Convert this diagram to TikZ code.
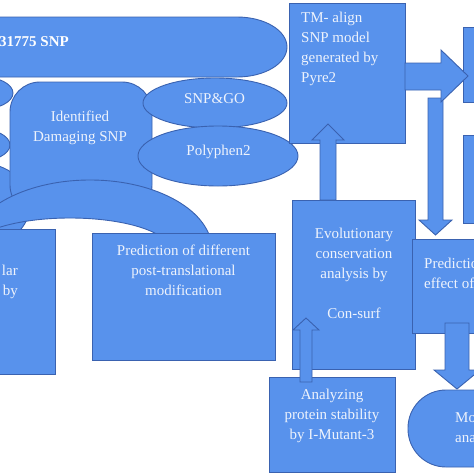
\documentclass[tikz,border=0pt]{standalone}
\usepackage{fontspec}
\setmainfont{Liberation Serif}
\definecolor{bfill}{HTML}{5892EC}
\definecolor{bline}{HTML}{3A62B0}
\definecolor{btext}{HTML}{EEF3FC}
\tikzset{
  shp/.style={fill=bfill, draw=bline, line width=0.9pt, line join=miter},
  txt/.style={text=btext, font=\fontsize{15}{20}\selectfont, inner sep=0pt},
  txtc/.style={txt, align=center, anchor=north},
  txtl/.style={txt, align=left, anchor=north west},
}
\begin{document}
\begin{tikzpicture}[x=1pt,y=-1pt]
\fill[white] (0,0) rectangle (474,474);
\useasboundingbox (0,0) rectangle (474,474);

% banner
\draw[shp] (-20,17) -- (237,17) arc[start angle=90, end angle=-90, x radius=50pt, y radius=30pt] -- (-20,77) -- cycle;
\node[txt, font=\fontsize{15}{20}\selectfont\bfseries, anchor=base west, text=white] (banner) at (-1,46) {31775 SNP};

% left ellipses
\draw[shp] (-20,93) ellipse [x radius=33pt, y radius=16.5pt];
\draw[shp] (-25,145) ellipse [x radius=35pt, y radius=17pt];
\draw[shp] (-20,205) ellipse [x radius=50pt, y radius=42pt];

% identified
\draw[shp, rounded corners=30pt] (10,82) rectangle (152,215);
\node[txtc] (ident) at (80,111) {Identified\\Damaging SNP};

% SNP&GO and Polyphen2
\draw[shp] (215,103) ellipse [x radius=72pt, y radius=25pt];
\node[txt, anchor=base] (snpgo) at (214.5,103) {SNP\&GO};

% arch
\begin{scope}
\clip (-50,0) rectangle (300,233);
\draw[shp, even odd rule] (90,250) ellipse [x radius=122pt, y radius=70pt]
  (70,250) ellipse [x radius=100pt, y radius=32pt];
\end{scope}

\draw[shp] (218,156) ellipse [x radius=80pt, y radius=30pt];
\node[txt, anchor=base] (poly) at (218.5,155.5) {Polyphen2};

% boxes
\draw[shp] (-10,229) rectangle (55,374);
\node[txt, align=right, anchor=north east] (cell) at (18,265) {lar\\by};

\draw[shp] (92,233) rectangle (275,360);
\node[txtc] (ptm) at (183.5,245) {Prediction of different\\post-translational\\modification};

\draw[shp] (289,3) rectangle (405,143);
\node[txtl] (tm) at (301,12) {TM- align\\SNP model\\generated by\\Pyre2};

\draw[shp] (463,27) rectangle (490,102);
\draw[shp] (463,135) rectangle (490,223);

\draw[shp] (292,200) rectangle (415,369);
\node[txtc] (evo) at (354,228) {Evolutionary\\conservation\\analysis by\\[20pt]Con-surf};

\draw[shp] (412,239) rectangle (490,333);
\node[txtl] (pred) at (424,258) {Predictio\\effect of};

\draw[shp] (269,377) rectangle (395,472);
\node[txtc] (ana) at (332,389) {Analyzing\\protein stability\\by I-Mutant-3};

\draw[shp, rounded corners=38pt] (408,390) rectangle (540,467);
\node[txtl] (mo) at (455,412) {Mo\\ana};

% block arrows
\draw[shp] (300,382) -- (300,330) -- (293,330) -- (306,318) -- (319,330) -- (312,330) -- (312,382) -- cycle;
\draw[shp] (320,200) -- (320,140) -- (312,140) -- (328,124) -- (344,140) -- (336,140) -- (336,200) -- cycle;
\draw[shp] (428,98) -- (428,220) -- (419,220) -- (435.5,235) -- (452,220) -- (443,220) -- (443,98) -- cycle;
\draw[shp] (405,63) -- (441,63) -- (441,50) -- (468,76) -- (441,102) -- (441,90) -- (405,90) -- cycle;
\draw[shp] (445,323) -- (445,370) -- (434,370) -- (457,389) -- (480,370) -- (469,370) -- (469,323) -- cycle;
\end{tikzpicture}
\end{document}
